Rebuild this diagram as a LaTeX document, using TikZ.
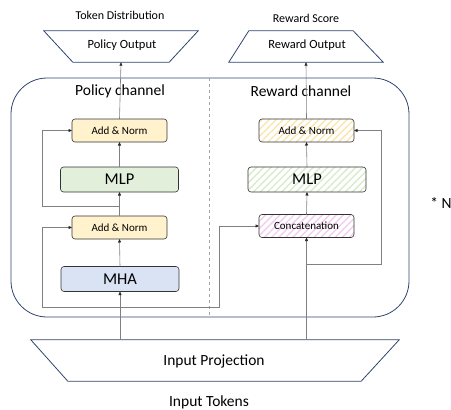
\documentclass[tikz,border=0pt]{standalone}
\usepackage{fontspec}
\setmainfont{Carlito}
\usetikzlibrary{arrows.meta, calc, positioning, patterns.meta}
\definecolor{navy}{HTML}{2F446F}
\definecolor{addfill}{HTML}{FFF2CC}
\definecolor{mlpfill}{HTML}{E2EFDA}
\definecolor{mhafill}{HTML}{DAE3F3}
\definecolor{addhatch}{HTML}{FCE4B0}
\definecolor{mlphatch}{HTML}{D8EBCB}
\definecolor{cathatch}{HTML}{F3CDEF}
\definecolor{wire}{HTML}{808080}

\begin{document}
\begin{tikzpicture}[x=1pt, y=-1pt,% styles used in image code
         > = {Triangle[length=3.5pt, width=3pt, color=black!85]},
box/.style = {draw=black!80, line width=0.6pt, rounded corners=3pt,
              inner sep=0pt, outer sep=0pt},
small box/.style = {box, minimum width=95pt, minimum height=23pt,
              font=\fontsize{11}{12}\selectfont},
big box/.style = {box, minimum width=118pt, minimum height=25pt,
              font=\fontsize{16.5}{18}\selectfont},
hatch/.style = {pattern={Lines[angle=45, distance=5pt, line width=1.4pt]},
              pattern color=#1},
flow/.style = {->, draw=wire, line width=0.6pt},
wire/.style = {draw=wire, line width=0.6pt},
trap/.style = {draw=navy, line width=0.8pt},
label/.style = {font=\fontsize{12}{13}\selectfont},
head/.style = {font=\fontsize{12.5}{14}\selectfont},
title/.style = {font=\fontsize{15.5}{17}\selectfont}
                        ]
	\useasboundingbox (0,0) rectangle (451,410);

	% channel frame
	\draw[navy, line width=0.8pt, rounded corners=36pt] (11,78) rectangle (409,317);
	\draw[wire!70, dashed, line width=0.5pt] (209,78) -- (209,317);
	\node[title] (pch) at (120,91) {Policy channel};
	\node[title] (rch) at (301,91) {Reward channel};
	\node[title] (rep) at (441,203) {* N};

	% policy channel blocks
	\node[big box, fill=mhafill]  (pmha) at (120,279)   {MHA};
	\node[small box, fill=addfill] (pan1) at (119.5,227.5) {Add \& Norm};
	\node[big box, fill=mlpfill]  (pmlp) at (119.5,179.5) {MLP};
	\node[small box, fill=addfill] (pan2) at (119.5,130.5) {Add \& Norm};

	% reward channel blocks
	\node[small box, hatch=cathatch] (rcat) at (306.5,226) {Concatenation};
	\node[big box, hatch=mlphatch]  (rmlp) at (307,179.5) {MLP};
	\node[small box, hatch=addhatch] (ran)  at (306.5,130.5) {Add \& Norm};

	% output heads
	\node[minimum width=154pt, minimum height=31pt, inner sep=0pt] (polout) at (121,46.5) {};
	\draw[trap] (polout.north west) -- (polout.north east)
	      -- ([xshift=-29pt]polout.south east) -- ([xshift=29pt]polout.south west) -- cycle;
	\node[head] at (122,45) {Policy Output};
	\node[label] (tokdist) at (120,15) {Token Distribution};

	\node[minimum width=154pt, minimum height=31pt, inner sep=0pt] (rewout) at (306,46.5) {};
	\draw[trap] ([xshift=20pt]rewout.north west) -- ([xshift=-30pt]rewout.north east)
	      -- (rewout.south east) -- (rewout.south west) -- cycle;
	\node[head] at (307,45) {Reward Output};
	\node[label] (rscore) at (306,18) {Reward Score};

	% input projection
	\node[minimum width=368pt, minimum height=41pt, inner sep=0pt] (inproj) at (215,360.5) {};
	\draw[trap] (inproj.north west) -- (inproj.north east)
	      -- ([xshift=-38pt]inproj.south east) -- ([xshift=37pt]inproj.south west) -- cycle;
	\node[title] at (214,361) {Input Projection};
	\node[title] (intok) at (209,402) {Input Tokens};

	% policy flow
	\coordinate (pin) at (inproj.north -| pmha.south);
	\draw[flow] (pin) -- (pmha.south);
	\draw[flow] (pmha.north) -- (pan1.south);
	\draw[flow] (pan1.north) -- (pmlp.south);
	\draw[flow] (pmlp.north) -- (pan2.south);
	\draw[flow] (pan2.north) -- (polout.south);

	% residual paths
	\coordinate (res1) at ($(pin)+(0,-33)$);
	\coordinate (res2) at ($(pan1.north)+(0,-10)$);
	\draw[flow] (res1) -- ++(-78,0) |- (pan1.west);
	\draw[flow] (res2) -- ++(-77.5,0) |- (pan2.west);
	\draw[flow] (res1) -- ++(99,0) |- (rcat.west);

	% reward flow
	\coordinate (rin) at (inproj.north -| rcat.south);
	\coordinate (res3) at ($(rin)+(0,-76)$);
	\draw[flow] (rin) -- (rcat.south);
	\draw[flow] (rcat.north) -- (rmlp.south);
	\draw[flow] (rmlp.north) -- (ran.south);
	\draw[flow] (ran.north) -- (rewout.south);
	\draw[flow] (res3) -- ++(74.5,0) |- (ran.east);
\end{tikzpicture}
\end{document}
